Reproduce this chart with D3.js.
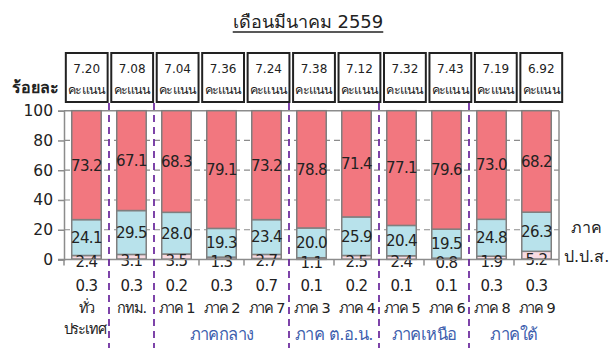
<!DOCTYPE html>
<html>
<head>
<meta charset="utf-8">
<script src="https://cdn.jsdelivr.net/npm/d3@7"></script>
<style>
  html, body { margin: 0; padding: 0; background: #fff; }
  svg { display: block; font-family: "DejaVu Sans", "Noto Sans", sans-serif; }
</style>
</head>
<body>
<svg id="chart" width="611" height="348"></svg>
<script>
// Regions (x-axis categories)
const regions = ["ทั่ว", "กทม.", "ภาค 1", "ภาค 2", "ภาค 7", "ภาค 3", "ภาค 4", "ภาค 5", "ภาค 6", "ภาค 8", "ภาค 9"];
// Average scores shown in the boxes above each bar
const scores = ["7.20", "7.08", "7.04", "7.36", "7.24", "7.38", "7.12", "7.32", "7.43", "7.19", "6.92"];
// Stacked shares (percent), bottom to top
const shareLow = [0.3, 0.3, 0.2, 0.3, 0.7, 0.1, 0.2, 0.1, 0.1, 0.3, 0.3];
const sharePink = [2.4, 3.1, 3.5, 1.3, 2.7, 1.1, 2.5, 2.4, 0.8, 1.9, 5.2];
const shareBlue = [24.1, 29.5, 28.0, 19.3, 23.4, 20.0, 25.9, 20.4, 19.5, 24.8, 26.3];
const shareRed = [73.2, 67.1, 68.3, 79.1, 73.2, 78.8, 71.4, 77.1, 79.6, 73.0, 68.2];
// Y-axis ticks
const yTicks = [0, 20, 40, 60, 80, 100];
// Region groups: label and index range [first, last]
const groupNames = ["ภาคกลาง", "ภาค ต.อ.น.", "ภาคเหนือ", "ภาคใต้"];
const groupStart = [2, 5, 7, 9];
const groupEnd = [4, 6, 8, 10];
// Boundaries where dashed separators are drawn (index of first region after the line)
const separators = [1, 2, 5, 7, 9];

const svg = d3.select("#chart");
const plotL = 64, plotR = 559, plotT = 110.7, plotB = 259.5;

const x = d3.scaleBand().domain(regions).range([plotL, plotR]).paddingInner(0.345).paddingOuter(0.172);
const xb = d3.scaleBand().domain(regions).range([plotL, plotR]).padding(0);
const y = d3.scaleLinear().domain([0, 100]).range([plotB, plotT]);
const boxX = d3.scaleBand().domain(regions).range([64, 564]).paddingInner(0.08).paddingOuter(0.04);

// Title
const title = svg.append("text").attr("x", 308).attr("y", 28)
  .attr("text-anchor", "middle").attr("font-size", 18).attr("fill", "#222")
  .text("เดือนมีนาคม 2559");
const tb = title.node().getBBox();
svg.append("line").attr("x1", tb.x).attr("x2", tb.x + tb.width)
  .attr("y1", 32).attr("y2", 32).attr("stroke", "#222").attr("stroke-width", 1.3);

// Gridlines
svg.append("g").selectAll("line").data(yTicks.filter(t => t > 0 && t < 100)).join("line")
  .attr("x1", plotL).attr("x2", plotR)
  .attr("y1", d => y(d)).attr("y2", d => y(d))
  .attr("stroke", "#8c8c8c").attr("stroke-width", 1.2).attr("stroke-dasharray", "6,4");

// Plot frame (top and right)
svg.append("line").attr("x1", plotL).attr("x2", plotR).attr("y1", y(100)).attr("y2", y(100))
  .attr("stroke", "#8c8c8c").attr("stroke-width", 1.5);
svg.append("line").attr("x1", plotR).attr("x2", plotR).attr("y1", y(100)).attr("y2", y(0))
  .attr("stroke", "#8c8c8c").attr("stroke-width", 1.5);

// Stacked bars
const stackData = regions.map((r, i) => ({ region: r, low: shareLow[i], pink: sharePink[i], blue: shareBlue[i], red: shareRed[i] }));
const keys = ["low", "pink", "blue", "red"];
const colors = { low: "#d9d9d9", pink: "#f8dbe2", blue: "#b8e2eb", red: "#f2777f" };
const series = d3.stack().keys(keys)(stackData);

const layers = svg.append("g").selectAll("g").data(series).join("g")
  .attr("fill", d => colors[d.key])
  .attr("stroke", d => d.key === "low" ? "none" : "#7f7f7f")
  .attr("stroke-width", 1.5);
layers.selectAll("rect").data(d => d).join("rect")
  .attr("x", d => x(d.data.region))
  .attr("width", x.bandwidth())
  .attr("y", d => y(d[1]))
  .attr("height", d => y(d[0]) - y(d[1]));

// Segment labels
const labelFont = 15;
series.filter(s => s.key !== "low").forEach(s => {
  svg.append("g").selectAll("text").data(s).join("text")
    .attr("x", d => x(d.data.region) + x.bandwidth() / 2)
    .attr("y", d => (y(d[0]) + y(d[1])) / 2 + (s.key === "pink" ? 4 : 0))
    .attr("dy", "0.36em")
    .attr("text-anchor", "middle").attr("font-size", labelFont).attr("fill", "#222")
    .attr("letter-spacing", -0.6)
    .text(d => d.data[s.key].toFixed(1));
});

// Y axis
const yAxis = svg.append("g").attr("transform", `translate(${plotL},0)`)
  .call(d3.axisLeft(y).tickValues(yTicks).tickSize(6).tickPadding(5));
yAxis.select(".domain").attr("stroke", "#8c8c8c").attr("stroke-width", 1.5);
yAxis.selectAll(".tick line").attr("stroke", "#8c8c8c").attr("stroke-width", 1.5);
yAxis.selectAll(".tick text").attr("font-size", 15.5).attr("fill", "#222")
  .attr("font-family", "DejaVu Sans, sans-serif");

// X axis: line with ticks at category boundaries
svg.append("line").attr("x1", plotL - 6).attr("x2", plotR).attr("y1", plotB).attr("y2", plotB)
  .attr("stroke", "#8c8c8c").attr("stroke-width", 1.5);
svg.append("g").selectAll("line").data(d3.range(regions.length + 1)).join("line")
  .attr("x1", i => plotL + i * xb.step()).attr("x2", i => plotL + i * xb.step())
  .attr("y1", plotB).attr("y2", plotB + 6)
  .attr("stroke", "#8c8c8c").attr("stroke-width", 1.5);

// Bottom share row (values too small to label inside the bars)
svg.append("g").selectAll("text").data(stackData).join("text")
  .attr("x", d => x(d.region) + x.bandwidth() / 2).attr("y", 291)
  .attr("text-anchor", "middle").attr("font-size", 15).attr("fill", "#222")
  .attr("letter-spacing", -0.6)
  .text(d => d.low.toFixed(1));

// Region names
svg.append("g").selectAll("text").data(regions).join("text")
  .attr("x", d => x(d) + x.bandwidth() / 2).attr("y", 313)
  .attr("text-anchor", "middle").attr("font-size", 14.5).attr("fill", "#222")
  .attr("letter-spacing", -1.2)
  .text(d => d);
svg.append("text").attr("x", x(regions[0]) + x.bandwidth() / 2 - 2).attr("y", 334)
  .attr("text-anchor", "middle").attr("font-size", 14.5).attr("fill", "#222")
  .attr("letter-spacing", -1.2)
  .text("ประเทศ");

// Group names
svg.append("g").selectAll("text").data(groupNames).join("text")
  .attr("x", (d, i) => (plotL + groupStart[i] * xb.step() + plotL + (groupEnd[i] + 1) * xb.step()) / 2)
  .attr("y", 340)
  .attr("text-anchor", "middle").attr("font-size", 16.5).attr("fill", "#3f5fae")
  .attr("letter-spacing", -0.6)
  .text(d => d);

// Dashed group separators
svg.append("g").selectAll("line").data(separators).join("line")
  .attr("x1", i => plotL + i * xb.step()).attr("x2", i => plotL + i * xb.step())
  .attr("y1", 103).attr("y2", 348)
  .attr("stroke", "#7030a0").attr("stroke-width", 1.8).attr("stroke-dasharray", "7,5");

// Score boxes
const boxes = svg.append("g").selectAll("g").data(regions).join("g")
  .attr("transform", d => `translate(${boxX(d)},53)`);
boxes.append("rect").attr("width", boxX.bandwidth()).attr("height", 49)
  .attr("fill", "#fff").attr("stroke", "#222").attr("stroke-width", 2);
boxes.append("text").attr("x", boxX.bandwidth() / 2).attr("y", 20)
  .attr("text-anchor", "middle").attr("font-size", 12).attr("fill", "#222")
  .text((d, i) => scores[i]);
boxes.append("text").attr("x", boxX.bandwidth() / 2).attr("y", 41)
  .attr("text-anchor", "middle").attr("font-size", 12.5).attr("fill", "#222")
  .attr("letter-spacing", -0.8)
  .text("คะแนน");

// Axis title and side legend text
svg.append("text").attr("x", 12).attr("y", 93).attr("font-size", 16).attr("font-weight", "bold")
  .attr("fill", "#222").text("ร้อยละ");
svg.append("text").attr("x", 571).attr("y", 233).attr("font-size", 16).attr("fill", "#222").text("ภาค");
svg.append("text").attr("x", 564).attr("y", 262).attr("font-size", 16).attr("fill", "#222").text("ป.ป.ส.");
</script>
</body>
</html>
